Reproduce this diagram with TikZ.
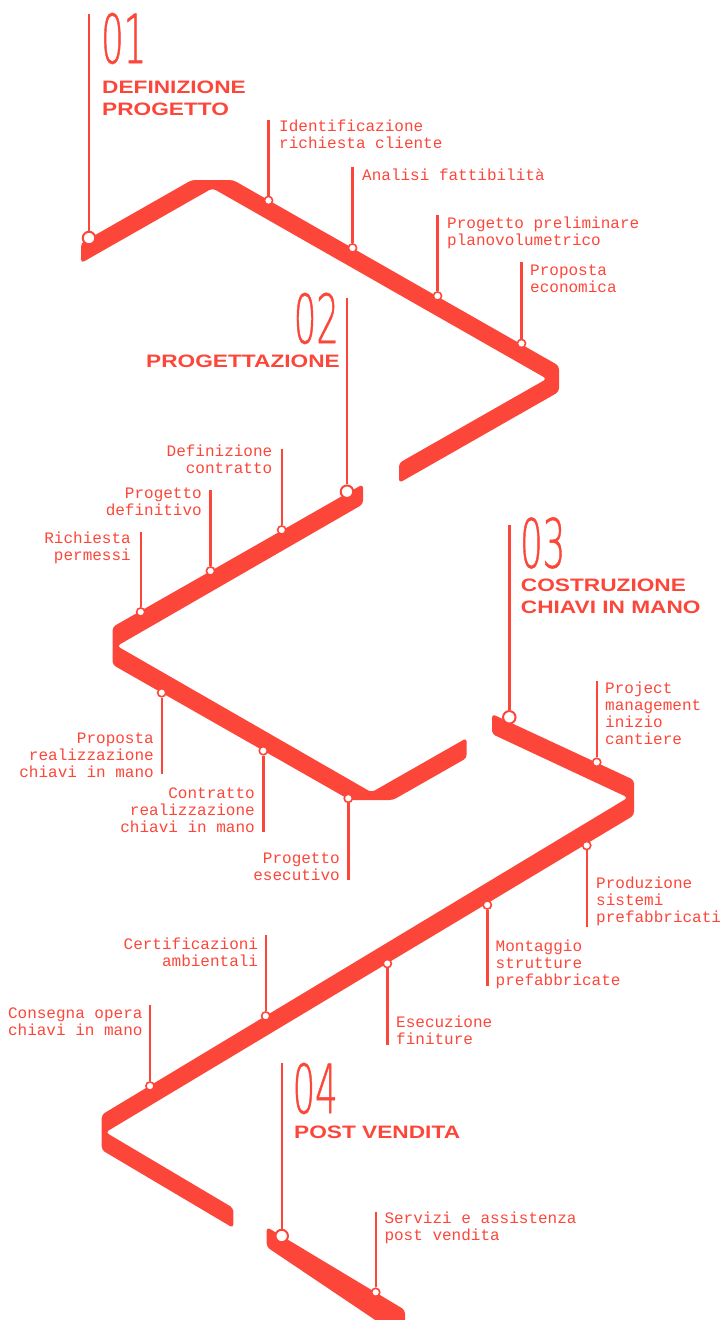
\documentclass[tikz,border=0pt]{standalone}
\usepackage{fontspec}
\newfontfamily\monofont{Liberation Mono}
\newfontfamily\headfont[FakeStretch=1.26]{Liberation Sans}
\newfontfamily\numfont[FakeStretch=0.52,FakeBold=0.6]{DejaVu Sans ExtraLight}
\definecolor{brand}{HTML}{FC463A}
\tikzset{
  band/.style={fill=brand, rounded corners=3.5pt},
  leader/.style={draw=brand, line width=2.4pt},
  dot/.style={circle, draw=brand, fill=white, line width=1.6pt, minimum size=8.2pt, inner sep=0pt},
  bigdot/.style={circle, draw=brand, fill=white, line width=2pt, minimum size=12.5pt, inner sep=0pt},
  lab/.style={text=brand, font=\monofont\fontsize{16}{17}\selectfont, inner sep=0pt},
  head/.style={text=brand, font=\headfont\bfseries\fontsize{18}{22}\selectfont, inner sep=0pt, text height=13pt, text depth=0pt},
  num/.style={text=brand, font=\numfont\fontsize{68}{68}\selectfont, inner sep=0pt, text height=49.5pt, text depth=0pt}
}
\newcommand\labW[4]{% name, x, first baseline, lines
  \foreach \t [count=\i] in {#4}{\node[lab,anchor=base west] (#1-\i) at (#2,{#3+17*(\i-1)}) {\t};}}
\newcommand\labE[4]{%
  \foreach \t [count=\i] in {#4}{\node[lab,anchor=base east] (#1-\i) at (#2,{#3+17*(\i-1)}) {\t};}}
\begin{document}
\begin{tikzpicture}[x=1pt,y=-1pt]
\useasboundingbox (0,0) rectangle (723,1320);
\clip (0,0) rectangle (723,1320);

% ---- bands
\fill[band] (81,243.1) -- (191.8,180) -- (233.1,180) -- (559,365.8) -- (559,391.8) -- (399,483) -- (399,463) -- (546.8,378.8) -- (212.5,188.2) -- (81,263.1) -- cycle;
\fill[band] (363,484.2) -- (112.5,627) -- (112.5,664.7) -- (349.9,800) -- (393,800) -- (466.7,758) -- (466.7,738) -- (371.5,792.3) -- (117,646) -- (363,504.2) -- cycle;
\fill[band] (492,714) -- (634,780) -- (634,815.3) -- (105.6,1132.3) -- (233.3,1208) -- (233.3,1228) -- (101.7,1150) -- (101.7,1114.7) -- (628,797.6) -- (492,734) -- cycle;
\fill[band] (266.7,1227) -- (405,1310) -- (405,1340) -- (266.7,1247) -- cycle;

% ---- section 01
\node[num,anchor=north west] (n1) at (101,13.5) {01};
\node[head,anchor=base west] (h1a) at (102,93) {DEFINIZIONE};
\node[head,anchor=base west] (h1b) at (102,115) {PROGETTO};
\coordinate (s1) at (89,14);
\node[bigdot] (S1) at (89,238) {};
\draw[leader] (s1) -- (S1);

\coordinate (t1) at (268.5,120); \node[dot] (d1) at (268.5,200.5) {};
\draw[leader] (t1) -- (d1);
\labW{l1}{279}{131}{Identificazione,richiesta cliente}
\coordinate (t2) at (352.5,167); \node[dot] (d2) at (352.5,248) {};
\draw[leader] (t2) -- (d2);
\labW{l2}{362}{180}{Analisi fattibilità}
\coordinate (t3) at (437.5,215); \node[dot] (d3) at (437.5,296) {};
\draw[leader] (t3) -- (d3);
\labW{l3}{447}{228}{Progetto preliminare,planovolumetrico}
\coordinate (t4) at (521.5,262); \node[dot] (d4) at (521.5,343.5) {};
\draw[leader] (t4) -- (d4);
\labW{l4}{530}{275}{Proposta,economica}

% ---- section 02
\node[num,anchor=north east] (n2) at (339,293.5) {02};
\node[head,anchor=base east] (h2) at (340,367) {PROGETTAZIONE};
\coordinate (s2) at (347,298);
\node[bigdot] (S2) at (347,491.7) {};
\draw[leader] (s2) -- (S2);

\coordinate (t5) at (281.7,448.5); \node[dot] (d5) at (281.7,530) {};
\draw[leader] (t5) -- (d5);
\labE{l5}{272.5}{456}{Definizione,contratto}
\coordinate (t6) at (210.5,490); \node[dot] (d6) at (210.5,571) {};
\draw[leader] (t6) -- (d6);
\labE{l6}{202}{498}{Progetto,definitivo}
\coordinate (t7) at (140.7,532); \node[dot] (d7) at (140.7,612) {};
\draw[leader] (t7) -- (d7);
\labE{l7}{131}{543}{Richiesta,permessi}

\node[dot] (d8) at (161.7,692.7) {}; \coordinate (t8) at (161.7,773.5);
\draw[leader] (d8) -- (t8);
\labE{l8}{154}{743}{Proposta,realizzazione,chiavi in mano}
\node[dot] (d9) at (263.3,750.7) {}; \coordinate (t9) at (263.3,831.5);
\draw[leader] (d9) -- (t9);
\labE{l9}{255}{798}{Contratto,realizzazione,chiavi in mano}
\node[dot] (d10) at (348.3,798.3) {}; \coordinate (t10) at (348.3,880);
\draw[leader] (d10) -- (t10);
\labE{l10}{340}{863}{Progetto,esecutivo}

% ---- section 03
\node[num,anchor=north west] (n3) at (520,518) {03};
\node[head,anchor=base west] (h3a) at (520.7,591.7) {COSTRUZIONE};
\node[head,anchor=base west] (h3b) at (520.7,613.3) {CHIAVI IN MANO};
\coordinate (s3) at (509.3,525);
\node[bigdot] (S3) at (509.3,717.3) {};
\draw[leader] (s3) -- (S3);

\coordinate (t11) at (596.7,681); \node[dot] (d11) at (596.7,762.3) {};
\draw[leader] (t11) -- (d11);
\labW{l11}{605}{693}{Project,management,inizio,cantiere}
\node[dot] (d12) at (586.7,845.5) {}; \coordinate (t12) at (586.7,927);
\draw[leader] (d12) -- (t12);
\labW{l12}{596}{888}{Produzione,sistemi,prefabbricati}
\node[dot] (d13) at (487.3,905) {}; \coordinate (t13) at (487.3,986);
\draw[leader] (d13) -- (t13);
\labW{l13}{495.5}{951.7}{Montaggio,strutture,prefabbricate}
\node[dot] (d14) at (387.3,963.5) {}; \coordinate (t14) at (387.3,1044.5);
\draw[leader] (d14) -- (t14);
\labW{l14}{396}{1027}{Esecuzione,finiture}
\coordinate (t15) at (265.7,935); \node[dot] (d15) at (265.7,1016) {};
\draw[leader] (t15) -- (d15);
\labE{l15}{258.3}{949}{Certificazioni,ambientali}
\coordinate (t16) at (150,1005); \node[dot] (d16) at (150,1086) {};
\draw[leader] (t16) -- (d16);
\labE{l16}{142.7}{1018}{Consegna opera,chiavi in mano}

% ---- section 04
\node[num,anchor=north west] (n4) at (292.5,1063.5) {04};
\node[head,anchor=base west] (h4) at (294,1138) {POST VENDITA};
\coordinate (s4) at (281.7,1063.3);
\node[bigdot] (S4) at (281.7,1236) {};
\draw[leader] (s4) -- (S4);

\coordinate (t17) at (375.7,1211.7); \node[dot] (d17) at (375.7,1292.3) {};
\draw[leader] (t17) -- (d17);
\labW{l17}{384.3}{1223}{Servizi e assistenza,post vendita}
\end{tikzpicture}
\end{document}
